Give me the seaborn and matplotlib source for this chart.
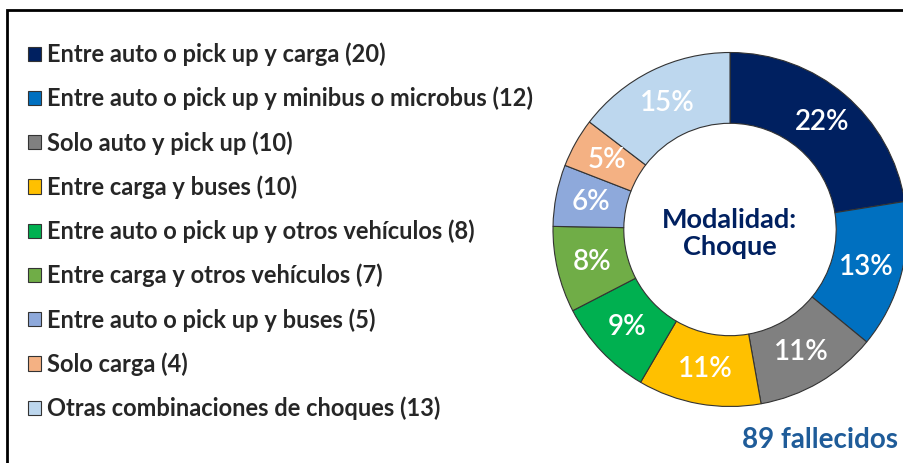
import matplotlib
matplotlib.use("Agg")
import matplotlib.pyplot as plt
import matplotlib.patches as mpatches
import seaborn as sns
import numpy as np

categories = [
    "Entre auto o pick up y carga",
    "Entre auto o pick up y minibus o microbus",
    "Solo auto y pick up",
    "Entre carga y buses",
    "Entre auto o pick up y otros vehículos",
    "Entre carga y otros vehículos",
    "Entre auto o pick up y buses",
    "Solo carga",
    "Otras combinaciones de choques",
]
deaths = [20, 12, 10, 10, 8, 7, 5, 4, 13]
pct_labels = ["22%", "13%", "11%", "11%", "9%", "8%", "6%", "5%", "15%"]
colors = ["#002060", "#0070C0", "#808080", "#FFC000", "#00B050",
          "#70AD47", "#8EA9DB", "#F4B183", "#BDD7EE"]

sns.set_style("white")
plt.rcParams["font.family"] = ["Lato", "DejaVu Sans"]

W, H = 904, 463
fig = plt.figure(figsize=(W / 100, H / 100), dpi=100)

# donut axes: centre (730, 229.5) px, radius 177 px
cx, cy, r = 730, 229.5, 177
ax = fig.add_axes([(cx - r) / W, 1 - (cy + r) / H, 2 * r / W, 2 * r / H])
wedges, _ = ax.pie(deaths, colors=colors, startangle=90, counterclock=False,
                   radius=1.0, wedgeprops=dict(width=0.4, edgecolor="#333333", linewidth=0.8))
ax.set_xlim(-1, 1)
ax.set_ylim(-1, 1)
ax.axis("off")

total = sum(deaths)
ang = 90.0
for v, lab in zip(deaths, pct_labels):
    mid = np.deg2rad(ang - 360.0 * v / total / 2)
    ax.text(0.8 * np.cos(mid), 0.8 * np.sin(mid), lab, color="white",
            fontsize=20, ha="center", va="center", fontweight="semibold")
    ang -= 360.0 * v / total

ax.text(0, -0.02, "Modalidad:\nChoque", color="#002060", fontsize=19.5,
        fontweight="bold", ha="center", va="center", linespacing=1.15)

handles = [mpatches.Patch(facecolor=c, edgecolor="#333333", linewidth=0.8) for c in colors]
labels = [f"{c} ({d})" for c, d in zip(categories, deaths)]
fig.legend(handles, labels, loc="upper left", bbox_to_anchor=(19 / W, 1 - 33 / H),
           frameon=False, prop=dict(family="Lato", weight="bold", size=17),
           handlelength=0.55, handleheight=0.55, handletextpad=0.22,
           labelspacing=0.875, borderaxespad=0)

fig.text(898 / W, 1 - 440 / H, "89 fallecidos", color="#1F5C99", fontsize=20,
         fontweight="bold", ha="right", va="center")

# frame partially visible (left and top)
fig.add_artist(mpatches.Rectangle((7 / W, -0.1), 1.2, 1 - 10 / H + 0.1,
                                  transform=fig.transFigure, fill=False,
                                  edgecolor="black", linewidth=2))

fig.savefig("out.png", dpi=100)
